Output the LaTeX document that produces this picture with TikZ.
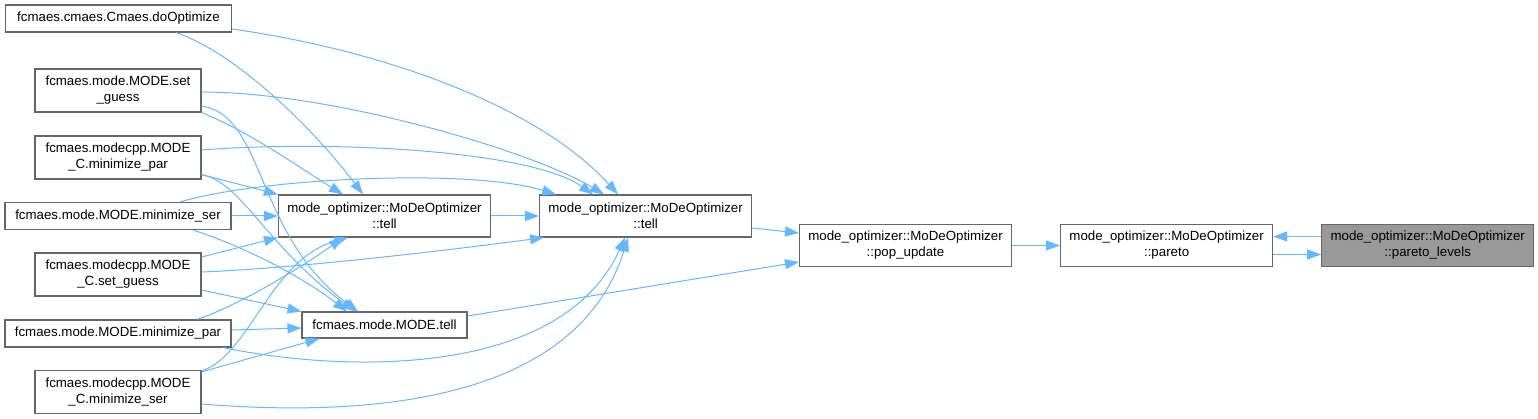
\documentclass[tikz,border=0pt]{standalone}
\usepackage{fontspec}
\setmainfont{Liberation Sans}
\usetikzlibrary{arrows.meta,positioning}
\definecolor{edgeblue}{HTML}{63B8FF}
\definecolor{boxgray}{HTML}{666666}
\definecolor{focusgray}{HTML}{999999}

\begin{document}
\begin{tikzpicture}[
    x=1pt, y=-1pt,
    box/.style={rectangle, draw=boxgray, line width=1.1pt, fill=white, inner sep=0pt, align=center, font=\fontsize{13.3}{16}\selectfont},
    wide/.style={box, minimum width=226pt, minimum height=27pt},
    narrow/.style={box, minimum width=166pt, minimum height=43pt},
    funcbox/.style={box, minimum width=212pt, minimum height=42pt},
    arrow/.style={-{Triangle[length=14pt, width=10pt]}, draw=edgeblue, line width=1pt}
]
\useasboundingbox (0,0) rectangle (1538,419);

% Callers
\node[wide] (doopt) at (118.5,18.5) {fcmaes.cmaes.Cmaes.doOptimize};
\node[narrow] (setguess) at (118,90.5) {fcmaes.mode.MODE.set\\\_guess};
\node[narrow] (cminpar) at (118,157.5) {fcmaes.modecpp.MODE\\\_C.minimize\_par};
\node[wide] (minser) at (118,216) {fcmaes.mode.MODE.minimize\_ser};
\node[narrow] (csetguess) at (118,274.5) {fcmaes.modecpp.MODE\\\_C.set\_guess};
\node[wide] (minpar) at (118,333.5) {fcmaes.mode.MODE.minimize\_par};
\node[narrow] (cminser) at (118,392) {fcmaes.modecpp.MODE\\\_C.minimize\_ser};

% Optimizer
\node[funcbox] (tell1) at (384.5,216) {mode\_optimizer::MoDeOptimizer\\::tell};
\node[box, minimum width=165pt, minimum height=26pt] (mtell) at (384.5,325) {fcmaes.mode.MODE.tell};
\node[funcbox, right=48pt of tell1] (tell2) {mode\_optimizer::MoDeOptimizer\\::tell};
\node[funcbox] (popup) at (905.5,245.5) {mode\_optimizer::MoDeOptimizer\\::pop\_update};
\node[funcbox, right=48pt of popup] (pareto) {mode\_optimizer::MoDeOptimizer\\::pareto};
\node[funcbox, fill=focusgray, right=48pt of pareto] (levels) {mode\_optimizer::MoDeOptimizer\\::pareto\_levels};

% Arrows
\draw[arrow] ([xshift=57.5pt]doopt.south) .. controls (236,53) and (313,128) .. ([xshift=-21.5pt]tell1.north);
\draw[arrow] ([yshift=-10.5pt]doopt.east) .. controls (381,50) and (537,105) .. ([xshift=-27.5pt]tell2.north);

\draw[arrow] (setguess.south east) .. controls (250,132) and (300,168) .. ([xshift=-41.5pt]tell1.north);
\draw[arrow] ([yshift=-1.5pt]setguess.east) .. controls (330,92) and (530,150) .. ([xshift=-41.5pt]tell2.north);
\draw[arrow] ([yshift=-15.5pt]setguess.east) .. controls (265,115) and (255,235) .. ([xshift=-26.5pt]mtell.north);

\draw[arrow] ([yshift=-17.5pt]cminpar.east) .. controls (240,180) and (265,245) .. ([xshift=-29.5pt]mtell.north);
\draw[arrow] ([yshift=-17pt]cminpar.east) -- (tell1.north west);
\draw[arrow] ([yshift=7.5pt]cminpar.east) .. controls (330,140) and (530,150) .. ([xshift=-52.5pt]tell2.north);

\draw[arrow] (minser.east) -- (tell1.west);
\draw[arrow] ([xshift=62pt]minser.north) .. controls (260,178) and (470,168) .. ([xshift=17pt]tell2.north west);
\draw[arrow] ([xshift=75pt]minser.south) .. controls (240,245) and (300,275) .. ([xshift=-37.5pt]mtell.north);

\draw[arrow] ([yshift=17.5pt]csetguess.east) -- (tell1.south west);
\draw[arrow] ([yshift=2.5pt]csetguess.east) .. controls (300,268) and (450,250) .. ([xshift=5pt]tell2.south west);
\draw[arrow] ([yshift=-15.5pt]csetguess.east) -- (mtell.north west);

\draw[arrow] ([xshift=79pt]minpar.north) .. controls (240,305) and (305,265) .. ([xshift=-41.5pt]tell1.south);
\draw[arrow] ([yshift=3.5pt]minpar.east) -- ([yshift=-3pt]mtell.west);
\draw[arrow] ([xshift=105pt]minpar.south) .. controls (340,372) and (560,380) .. ([xshift=-20.5pt]tell2.south);

\draw[arrow] ([yshift=-1pt]cminser.north east) .. controls (250,355) and (270,260) .. ([xshift=-36.5pt]tell1.south);
\draw[arrow] ([yshift=-2pt]cminser.north east) -- ([xshift=18pt]mtell.south west);
\draw[arrow] ([yshift=-12pt]cminser.east) .. controls (400,420) and (580,390) .. ([xshift=-17.5pt]tell2.south);

\draw[arrow] (tell1.east) -- (tell2.west);
\draw[arrow] ([yshift=-12pt]tell2.east) -- ([yshift=12.5pt]popup.west);
\draw[arrow] ([yshift=9pt]mtell.east) -- ([yshift=-16.5pt]popup.west);
\draw[arrow] (popup.east) -- (pareto.west);
\draw[arrow] ([yshift=9pt]levels.west) -- ([yshift=9pt]pareto.east);
\draw[arrow] ([yshift=-9pt]pareto.east) -- ([yshift=-9pt]levels.west);

\end{tikzpicture}
\end{document}
